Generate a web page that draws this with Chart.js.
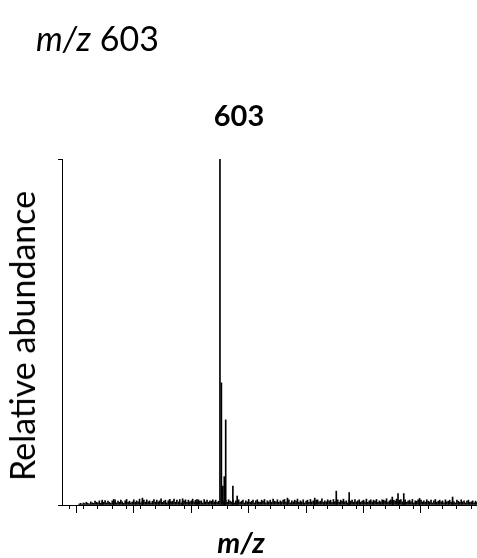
<!DOCTYPE html>
<html>
<head>
<meta charset="utf-8">
<script src="https://cdn.jsdelivr.net/npm/chart.js@4.4.0/dist/chart.umd.min.js"></script>
<style>
    html, body { margin: 0; padding: 0; background: #fff; }
    #wrap { position: relative; width: 477px; height: 558px; font-family: Lato, "Open Sans", sans-serif; color: #000; }
    #wrap canvas { position: absolute; left: 0; top: 0; }
    .txt { position: absolute; line-height: 1; white-space: nowrap; }
    #heading { left: 36px; top: 21px; font-size: 34px; }
    #ion { left: 239px; top: 100px; font-size: 29px; font-weight: bold; transform: translateX(-50%); }
    #xlab { left: 241px; top: 527px; font-size: 29px; font-weight: bold; font-style: italic; transform: translateX(-50%); }
    #ylab { left: 22px; top: 336px; font-size: 34px; transform: translate(-50%, -50%) rotate(-90deg); }
</style>
</head>
<body>
<div id="wrap">
    <canvas id="spectrum" width="477" height="558"></canvas>
    <div class="txt" id="heading"><i>m/z</i> 603</div>
    <div class="txt" id="ion">603</div>
    <div class="txt" id="ylab">Relative abundance</div>
    <div class="txt" id="xlab">m/z</div>
</div>
<script>
// --- spectrum data (relative abundance, %) ---
const mzMin = 493;
const mzMax = 782;

// labelled ion cluster and the larger background peaks
const peakMz = [603, 604, 605, 606, 607, 612, 615, 521, 529, 549, 568, 577, 587, 650, 669, 684, 693, 723, 727, 731, 742, 765];
const peakAbundance = [100, 35.3, 5.5, 8.2, 24.6, 5.5, 2.6, 1.4, 1.6, 2.0, 1.6, 1.8, 1.6, 2.0, 2.0, 4.0, 3.6, 2.3, 3.3, 3.3, 1.9, 2.3];

// baseline noise, one reading per m/z from noiseStart
const noiseStart = 505;
const noiseAbundance = [
    0.3, 0.5, 0.3, 0.6, 0.4, 0.8, 0.5, 0.3, 0.9, 0.6, 0.5, 1.1, 0.8, 0.6, 1.2, 0.5, 0.9, 0.8, 1.3, 0.6,
    1.1, 0.8, 0.5, 1.2, 0.9, 1.5, 0.6, 1.1, 0.8, 1.4, 0.9, 0.5, 1.2, 1.6, 0.8, 1.1, 0.6, 0.9, 1.5, 0.8,
    1.2, 0.9, 1.7, 0.6, 1.1, 1.4, 0.8, 1.5, 0.9, 1.2, 0.6, 1.1, 1.6, 0.8, 1.4, 0.9, 1.2, 1.8, 0.8, 1.1,
    1.4, 0.6, 1.2, 1.5, 0.9, 1.1, 1.7, 0.8, 1.4, 0.9, 1.6, 0.6, 1.2, 1.1, 1.5, 0.8, 1.4, 0.9, 1.2, 1.7,
    0.9, 1.4, 0.8, 1.5, 1.1, 1.2, 0.6, 1.6, 0.9, 1.4, 0.8, 1.2, 1.1, 1.5, 0.9, 1.4, 0.8, 1.1, 0.0, 0.0,
    1.2, 0.9, 1.4, 0.8, 1.5, 1.1, 0.9, 1.4, 0.6, 1.2, 0.9, 1.5, 0.8, 1.1, 1.4, 0.6, 1.2, 0.9, 1.6, 0.8,
    1.1, 1.4, 0.6, 1.2, 1.5, 0.9, 0.8, 1.4, 1.1, 1.6, 0.6, 1.2, 0.9, 1.4, 0.8, 1.7, 1.1, 0.9, 1.5, 0.8,
    1.2, 0.9, 1.4, 1.6, 0.8, 1.1, 1.5, 0.6, 1.2, 0.9, 1.4, 1.1, 1.7, 0.8, 1.2, 0.9, 1.5, 0.6, 1.1, 1.4,
    0.8, 1.6, 0.9, 1.2, 0.6, 1.4, 1.5, 0.9, 1.1, 1.8, 0.8, 1.2, 0.9, 1.5, 1.1, 1.4, 0.8, 1.6, 0.9, 1.2,
    1.5, 0.8, 1.4, 1.1, 1.7, 0.9, 1.2, 0.6, 1.5, 1.1, 1.4, 0.8, 1.6, 0.9, 1.2, 1.5, 0.8, 1.1, 1.4, 0.9,
    1.7, 0.8, 1.2, 1.5, 0.9, 1.4, 1.1, 1.6, 0.8, 1.2, 0.9, 1.5, 1.4, 1.1, 1.8, 0.8, 1.2, 1.5, 0.9, 1.4,
    1.1, 1.7, 0.8, 1.4, 1.6, 0.9, 1.2, 1.5, 0.8, 1.1, 1.4, 0.9, 1.6, 0.6, 1.2, 1.1, 1.5, 0.8, 1.4, 0.9,
    1.2, 0.8, 1.5, 1.1, 0.9, 1.4, 0.6, 1.2, 1.6, 0.8, 1.1, 1.4, 0.9, 1.2, 0.6, 1.5, 0.9, 1.1, 1.4, 0.8,
    1.2, 0.9, 0.6, 1.4, 1.1, 0.8, 1.5, 0.9, 1.2, 0.6, 1.1, 1.4, 0.8, 0.9, 1.2, 0.6, 1.1, 0.8
];

// axis tick positions
const minorTicks = [];
for (let v = mzMin; v <= mzMax; v += 10) minorTicks.push(v);
const majorTicks = [523, 563, 603, 643, 683, 723, 763];
const yTicks = [0, 100];

// --- build the stick list ---
const sticks = noiseAbundance.map((a, i) => ({ x: noiseStart + i, y: a }));
peakMz.forEach((mz, i) => sticks.push({ x: mz, y: peakAbundance[i] }));
sticks.sort((a, b) => a.x - b.x);

const setTicks = list => scale => { scale.ticks = list.map(v => ({ value: v })); };

new Chart(document.getElementById('spectrum'), {
    type: 'bar',
    data: {
        datasets: [{
            data: sticks,
            backgroundColor: '#000',
            borderWidth: 0,
            barThickness: 1,
            grouped: false
        }]
    },
    options: {
        responsive: false,
        animation: false,
        devicePixelRatio: 1,
        layout: { padding: { top: 159, left: 0, right: 0, bottom: 0 } },
        plugins: { legend: { display: false }, tooltip: { enabled: false } },
        scales: {
            x: {
                type: 'linear', position: 'bottom', offset: false,
                min: mzMin, max: mzMax,
                afterBuildTicks: setTicks(minorTicks),
                afterFit: s => { s.height = 0; },
                ticks: { display: false, autoSkip: false },
                grid: { drawOnChartArea: false, drawTicks: true, tickLength: 4, tickColor: '#000', tickWidth: 1 },
                border: { display: true, color: '#000', width: 1 }
            },
            x2: {
                type: 'linear', position: 'bottom', offset: false,
                min: mzMin, max: mzMax,
                afterBuildTicks: setTicks(majorTicks),
                afterFit: s => { s.height = 53; },
                ticks: { display: false, autoSkip: false },
                grid: { drawOnChartArea: false, drawTicks: true, tickLength: 8, tickColor: '#000', tickWidth: 1 },
                border: { display: false }
            },
            y: {
                min: 0, max: 100,
                afterBuildTicks: setTicks(yTicks),
                afterFit: s => { s.width = 62; },
                ticks: { display: false },
                grid: { drawOnChartArea: false, drawTicks: true, tickLength: 4, tickColor: '#000', tickWidth: 1 },
                border: { display: true, color: '#000', width: 1 }
            }
        }
    }
});
</script>
</body>
</html>
